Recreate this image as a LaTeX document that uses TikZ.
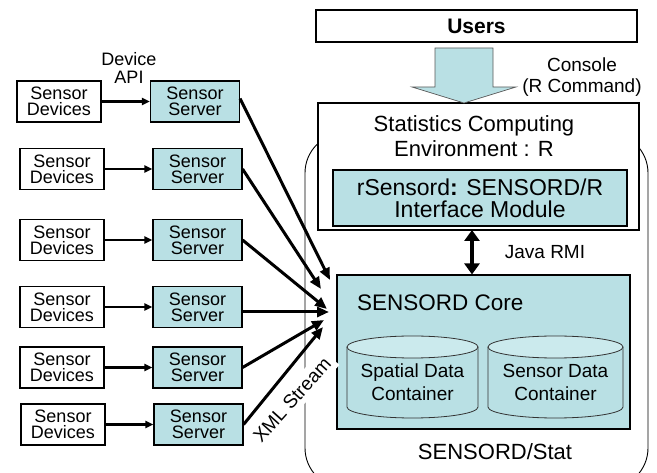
\documentclass[tikz,border=0pt]{standalone}
\usepackage{fontspec}
\setmainfont{Liberation Sans}
\usetikzlibrary{arrows.meta}
\definecolor{cy}{RGB}{185,224,228}
\definecolor{cytop}{RGB}{203,234,237}
\begin{document}
\begin{tikzpicture}[x=1pt,y=-1pt,
  box/.style={draw, line width=1.1pt, inner sep=0pt, align=center, font=\fontsize{18}{16}\selectfont},
  dev/.style={box, minimum width=84pt, minimum height=41pt},
  srv/.style={box, fill=cy, minimum width=89pt, minimum height=41pt},
  feed/.style={line width=2.5pt, -{Triangle[length=8pt,width=7pt]}},
  conv/.style={line width=3pt, -{Triangle[length=12pt,width=10pt]}},
  lbl/.style={inner sep=0pt, align=center},
  cyl/.style={fill=cy, draw=black!80, line width=0.8pt}]
\clip (0,0) rectangle (657,473);
% container SENSORD/Stat
\node[draw, line width=0.9pt, rounded corners=40pt, minimum width=343pt, minimum height=355pt, inner sep=0pt] (stat) at (476.5,310.5) {};
% Users
\node[draw, line width=1.1pt, minimum width=321pt, minimum height=32pt, inner sep=0pt, font=\bfseries\fontsize{21}{21}\selectfont] (users) at (476.5,26) {Users};
% environment box
\node[draw, fill=white, line width=1.1pt, minimum width=321pt, minimum height=127pt, inner sep=0pt] (env) at (478.5,166.5) {};
\node[lbl, font=\fontsize{22}{25}\selectfont] (envtxt) at (474,136.5) {Statistics Computing\\Environment : R};
\node[draw, fill=cy, line width=1.1pt, minimum width=294pt, minimum height=56pt, inner sep=0pt, align=center, font=\fontsize{23}{22}\selectfont] (rif) at (480,198) {rSensord\textbf{:} SENSORD/R\\Interface Module};
% big arrow
\draw[fill=cy, draw=black!65, line width=0.7pt] (435,48) -- (493,48) -- (493,87) -- (516,87) -- (464,103) -- (412,87) -- (435,87) -- cycle;
\node[lbl, font=\fontsize{19}{21}\selectfont] (console) at (582,77.5) {Console\\(R Command)};
% core
\node[draw, fill=cy, line width=1.1pt, minimum width=293pt, minimum height=154pt, inner sep=0pt] (core) at (483.5,352) {};
\node[lbl, anchor=base west, font=\fontsize{22.5}{25}\selectfont] (coretxt) at (357,311) {SENSORD Core};
% cylinders
\path[cyl] (347,347) -- (347,407) arc[start angle=180, end angle=0, x radius=65.5, y radius=11] -- (478,347);
\path[cyl, fill=cytop] (412.5,347) ellipse[x radius=65.5, y radius=11];
\node[lbl, font=\fontsize{19}{23}\selectfont] (spatial) at (412.5,382) {Spatial Data\\Container};
\path[cyl] (488,347) -- (488,407) arc[start angle=180, end angle=0, x radius=67.5, y radius=11] -- (623,347);
\path[cyl, fill=cytop] (555.5,347) ellipse[x radius=67.5, y radius=11];
\node[lbl, font=\fontsize{19}{23}\selectfont] (sensor) at (555.5,382) {Sensor Data\\Container};
\node[lbl, font=\fontsize{22}{22}\selectfont] (stattxt) at (495,451.5) {SENSORD/Stat};
% Java RMI
\coordinate (rmi) at (472,230);
\draw[line width=4pt, {Triangle[length=11pt,width=15pt]}-{Triangle[length=11pt,width=15pt]}] (rmi) -- (rmi |- core.north);
\node[lbl, font=\fontsize{19}{19}\selectfont] (rmitxt) at (545,252) {Java RMI};
% sensor devices and servers
\node[dev] (d1) at (59,101.5) {Sensor\\Devices};
\node[srv] (s1) at (195,101.5) {Sensor\\Server};
\node[dev] (d2) at (62,169) {Sensor\\Devices};
\node[srv] (s2) at (197.5,169) {Sensor\\Server};
\node[dev] (d3) at (62,240) {Sensor\\Devices};
\node[srv] (s3) at (197.5,240) {Sensor\\Server};
\node[dev] (d4) at (62,307) {Sensor\\Devices};
\node[srv] (s4) at (197.5,307) {Sensor\\Server};
\node[dev] (d5) at (62,367.5) {Sensor\\Devices};
\node[srv] (s5) at (197.5,367.5) {Sensor\\Server};
\node[dev] (d6) at (63,424.5) {Sensor\\Devices};
\node[srv] (s6) at (198.5,424.5) {Sensor\\Server};
\node[lbl, font=\fontsize{18}{18}\selectfont] (api) at (129,68) {Device\\API};
\foreach \i in {1,...,6} {\draw[feed] (d\i) -- (s\i);}
% XML Stream label
\node[fill=white, inner sep=5pt, rotate=48, font=\fontsize{19}{19}\selectfont] (xml) at (292,400) {XML Stream};
% converging arrows
\coordinate (t1) at (330,280);
\coordinate (t2) at (321,289);
\coordinate (t3) at (327,309);
\coordinate (t4) at (329,312);
\coordinate (t5) at (324,320);
\coordinate (t6) at (323,327);
\draw[conv] ([yshift=3pt]s1.east) -- (t1);
\draw[conv] (s2.east) -- (t2);
\draw[conv] (s3.east) -- (t3);
\draw[conv] (s4.east |- t4) -- (t4);
\draw[conv] (s5.east) -- (t5);
\draw[conv] (s6.east) -- (t6);
\end{tikzpicture}
\end{document}
